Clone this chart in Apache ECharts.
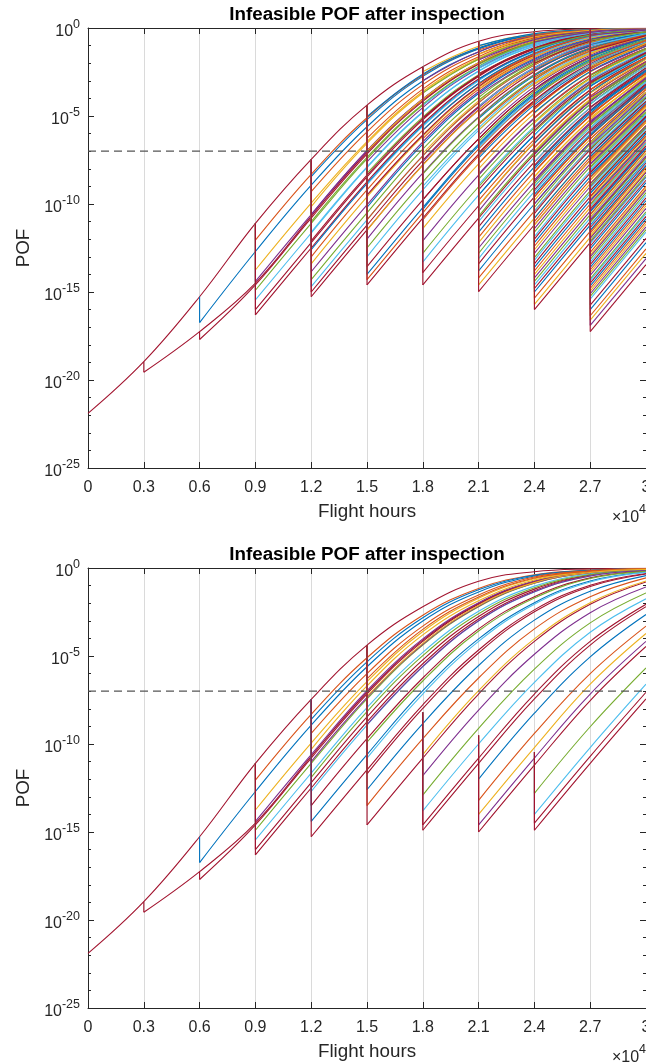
<!DOCTYPE html>
<html>
<head>
<meta charset="utf-8">
<title>Infeasible POF after inspection</title>
<script src="https://cdn.jsdelivr.net/npm/echarts@6/dist/echarts.min.js"></script>
<style>
  html, body { margin: 0; padding: 0; background: #ffffff; overflow: hidden; }
  #chart { width: 646px; height: 1064px; }
</style>
</head>
<body>
<div id="chart"></div>
<script>
// ---------------------------------------------------------------------------
// Axes: flight hours 0..30000 (inspection every 3000 h), POF as log10 exponent
// ---------------------------------------------------------------------------
const INSPECTION_STEP = 3000;
const xMaxHours = 30000;
const yMinExp = -25;
const yMaxExp = 0;
const pofThresholdExp = -7;

// All POF values below are log10(POF).
// Un-inspected curve, value at 0, 3000, ..., 30000 h.
const rootLogPof = [-21.9, -18.96, -15.27, -11.1, -7.46, -4.38, -2.2, -0.75, -0.21, -0.05, -0.01];

// Curves restarting at an inspection. Each row:
// [log10 POF just before inspection, just after it, then at each later inspection time]
const upperAt03 = [
  [-18.96, -19.56, -17.25, -14.5, -10.7, -7.06, -4.1, -2.02, -0.77, -0.24, -0.07]
];
const upperAt06 = [
  [-15.27, -16.74, -12.7, -8.93, -5.61, -3.01, -1.36, -0.45, -0.14, -0.04],
  [-17.25, -17.7, -14.6, -10.8, -7.16, -4.17, -2.06, -0.79, -0.25, -0.08]
];
const upperAt09 = [
  [-11.1, -12.05, -8.31, -5.1, -2.68, -1.16, -0.38, -0.12, -0.04],
  [-11.1, -13.75, -9.95, -6.46, -3.61, -1.72, -0.61, -0.19, -0.06],
  [-11.1, -14.4, -10.6, -6.97, -4.03, -1.97, -0.74, -0.23, -0.07],
  [-11.1, -14.9, -11.1, -7.44, -4.38, -2.2, -0.87, -0.28, -0.09],
  [-11.1, -15.45, -11.65, -7.93, -4.79, -2.46, -1.03, -0.33, -0.1],
  [-11.1, -16.0, -12.2, -8.46, -5.22, -2.76, -1.2, -0.4, -0.12],
  [-11.1, -16.3, -12.5, -8.74, -5.44, -2.9, -1.29, -0.42, -0.13]
];
const upperAt12 = [
  [-7.46, -8.45, -5.21, -2.75, -1.19, -0.39, -0.12, -0.04],
  [-7.46, -9.3, -5.9, -3.22, -1.48, -0.49, -0.15, -0.05],
  [-7.46, -10.15, -6.56, -3.69, -1.77, -0.64, -0.2, -0.06],
  [-7.46, -10.6, -6.97, -4.03, -1.97, -0.74, -0.23, -0.07],
  [-7.46, -11.0, -7.35, -4.33, -2.17, -0.85, -0.27, -0.08],
  [-7.46, -11.6, -7.89, -4.76, -2.44, -1.02, -0.33, -0.1],
  [-7.46, -12.1, -8.36, -5.14, -2.7, -1.17, -0.39, -0.12],
  [-7.46, -12.6, -8.84, -5.54, -2.96, -1.32, -0.43, -0.13],
  [-7.46, -13.0, -9.2, -5.82, -3.17, -1.45, -0.48, -0.15],
  [-7.46, -13.4, -9.6, -6.15, -3.38, -1.58, -0.54, -0.17],
  [-7.46, -13.85, -10.05, -6.47, -3.62, -1.73, -0.62, -0.19],
  [-7.46, -14.3, -10.5, -6.88, -3.95, -1.93, -0.72, -0.23],
  [-7.46, -14.7, -10.9, -7.26, -4.25, -2.11, -0.82, -0.26],
  [-7.46, -15.0, -11.2, -7.53, -4.46, -2.25, -0.9, -0.29],
  [-7.46, -15.27, -11.47, -7.77, -4.66, -2.38, -0.98, -0.31]
];
const upperAt15 = [
  [-4.38, -5.04, -2.63, -1.13, -0.37, -0.11, -0.03],
  [-4.38, -6.27, -3.47, -1.63, -0.56, -0.17, -0.05],
  [-4.38, -7.0, -4.05, -1.98, -0.74, -0.23, -0.07],
  [-4.38, -7.6, -4.52, -2.29, -0.93, -0.3, -0.09],
  [-4.38, -8.26, -5.06, -2.65, -1.14, -0.37, -0.11],
  [-4.38, -8.9, -5.59, -3.0, -1.35, -0.45, -0.14],
  [-4.38, -9.5, -6.08, -3.32, -1.54, -0.52, -0.16],
  [-4.38, -10.2, -6.6, -3.72, -1.79, -0.65, -0.2],
  [-4.38, -10.9, -7.26, -4.25, -2.11, -0.82, -0.26],
  [-4.38, -11.5, -7.8, -4.68, -2.39, -0.99, -0.32],
  [-4.38, -12.0, -8.25, -5.05, -2.64, -1.13, -0.37],
  [-4.38, -12.5, -8.74, -5.44, -2.9, -1.29, -0.42],
  [-4.38, -13.0, -9.2, -5.82, -3.17, -1.45, -0.48],
  [-4.38, -13.56, -9.76, -6.3, -3.49, -1.65, -0.57],
  [-4.38, -14.0, -10.2, -6.6, -3.72, -1.79, -0.65],
  [-4.38, -14.3, -10.5, -6.88, -3.95, -1.93, -0.72],
  [-4.38, -14.6, -10.8, -7.16, -4.17, -2.06, -0.79]
];
const upperAt18 = [
  [-2.2, -2.48, -1.04, -0.33, -0.1, -0.03],
  [-2.2, -3.0, -1.35, -0.45, -0.14, -0.04],
  [-2.2, -3.7, -1.78, -0.64, -0.2, -0.06],
  [-2.2, -4.4, -2.22, -0.88, -0.28, -0.09],
  [-2.2, -5.13, -2.7, -1.17, -0.39, -0.12],
  [-2.2, -5.8, -3.15, -1.44, -0.47, -0.15],
  [-2.2, -6.3, -3.49, -1.65, -0.57, -0.18],
  [-2.2, -7.12, -4.14, -2.04, -0.78, -0.25],
  [-2.2, -7.6, -4.52, -2.29, -0.93, -0.3],
  [-2.2, -8.3, -5.09, -2.67, -1.15, -0.38],
  [-2.2, -9.0, -5.67, -3.05, -1.38, -0.45],
  [-2.2, -9.77, -6.3, -3.49, -1.65, -0.57],
  [-2.2, -10.3, -6.7, -3.8, -1.86, -0.68],
  [-2.2, -10.9, -7.26, -4.25, -2.11, -0.82],
  [-2.2, -11.4, -7.72, -4.62, -2.35, -0.96],
  [-2.2, -12.1, -8.36, -5.14, -2.7, -1.17],
  [-2.2, -12.8, -9.02, -5.68, -3.06, -1.38],
  [-2.2, -13.3, -9.5, -6.08, -3.32, -1.54],
  [-2.2, -13.9, -10.1, -6.52, -3.66, -1.76],
  [-2.2, -14.6, -10.8, -7.16, -4.17, -2.06]
];
const upperAt21 = [
  [-0.75, -1.0, -0.32, -0.1, -0.03],
  [-0.75, -1.25, -0.41, -0.13, -0.04],
  [-0.75, -1.5, -0.5, -0.15, -0.05],
  [-0.75, -1.82, -0.66, -0.2, -0.06],
  [-0.75, -2.05, -0.79, -0.25, -0.08],
  [-0.75, -2.3, -0.93, -0.3, -0.09],
  [-0.75, -2.6, -1.12, -0.37, -0.11],
  [-0.75, -2.9, -1.29, -0.42, -0.13],
  [-0.75, -3.2, -1.47, -0.49, -0.15],
  [-0.75, -3.5, -1.65, -0.57, -0.18],
  [-0.75, -3.8, -1.86, -0.68, -0.21],
  [-0.75, -4.1, -2.02, -0.77, -0.24],
  [-0.75, -4.45, -2.25, -0.9, -0.29],
  [-0.75, -4.8, -2.47, -1.03, -0.33],
  [-0.75, -5.15, -2.72, -1.18, -0.39],
  [-0.75, -5.5, -2.95, -1.32, -0.43],
  [-0.75, -5.8, -3.15, -1.44, -0.47],
  [-0.75, -6.1, -3.33, -1.55, -0.52],
  [-0.75, -6.45, -3.61, -1.72, -0.61],
  [-0.75, -6.8, -3.88, -1.9, -0.7],
  [-0.75, -7.1, -4.12, -2.03, -0.78],
  [-0.75, -7.4, -4.37, -2.2, -0.87],
  [-0.75, -7.7, -4.6, -2.34, -0.95],
  [-0.75, -8.0, -4.85, -2.5, -1.05],
  [-0.75, -8.3, -5.09, -2.67, -1.15],
  [-0.75, -8.6, -5.33, -2.83, -1.24],
  [-0.75, -8.9, -5.59, -3.0, -1.35],
  [-0.75, -9.2, -5.82, -3.17, -1.45],
  [-0.75, -9.5, -6.08, -3.32, -1.54],
  [-0.75, -9.8, -6.33, -3.51, -1.66],
  [-0.75, -10.1, -6.52, -3.66, -1.76],
  [-0.75, -10.4, -6.8, -3.88, -1.9],
  [-0.75, -10.7, -7.06, -4.1, -2.02],
  [-0.75, -11.0, -7.35, -4.33, -2.17],
  [-0.75, -11.3, -7.62, -4.54, -2.3],
  [-0.75, -11.6, -7.89, -4.76, -2.44],
  [-0.75, -11.9, -8.16, -4.98, -2.6],
  [-0.75, -12.2, -8.46, -5.22, -2.76],
  [-0.75, -12.5, -8.74, -5.44, -2.9],
  [-0.75, -12.8, -9.02, -5.68, -3.06],
  [-0.75, -13.1, -9.3, -5.9, -3.22],
  [-0.75, -13.4, -9.6, -6.15, -3.38],
  [-0.75, -13.8, -10.0, -6.5, -3.65],
  [-0.75, -14.2, -10.4, -6.8, -3.88],
  [-0.75, -14.6, -10.8, -7.16, -4.17],
  [-0.75, -14.98, -11.18, -7.51, -4.44]
];
const upperAt24 = [
  [-0.21, -0.8, -0.25, -0.08], [-0.21, -1.2, -0.4, -0.12], [-0.21, -1.55, -0.53, -0.16],
  [-0.21, -2.0, -0.75, -0.23], [-0.21, -2.4, -0.99, -0.32], [-0.21, -2.8, -1.22, -0.4],
  [-0.21, -3.2, -1.47, -0.49], [-0.21, -3.5, -1.65, -0.57], [-0.21, -3.85, -1.87, -0.68],
  [-0.21, -4.2, -2.08, -0.79], [-0.21, -4.5, -2.26, -0.9], [-0.21, -4.8, -2.47, -1.03],
  [-0.21, -5.1, -2.68, -1.16], [-0.21, -5.4, -2.88, -1.28], [-0.21, -5.65, -3.04, -1.38],
  [-0.21, -5.9, -3.22, -1.48], [-0.21, -6.1, -3.33, -1.55], [-0.21, -6.35, -3.53, -1.67],
  [-0.21, -6.55, -3.68, -1.76], [-0.21, -6.8, -3.88, -1.9], [-0.21, -7.0, -4.05, -1.98],
  [-0.21, -7.2, -4.2, -2.08], [-0.21, -7.35, -4.33, -2.17], [-0.21, -7.6, -4.52, -2.29],
  [-0.21, -7.8, -4.68, -2.39], [-0.21, -8.0, -4.85, -2.5], [-0.21, -8.2, -5.01, -2.61],
  [-0.21, -8.45, -5.21, -2.75], [-0.21, -8.65, -5.37, -2.86], [-0.21, -8.85, -5.55, -2.97],
  [-0.21, -9.0, -5.67, -3.05], [-0.21, -9.2, -5.82, -3.17], [-0.21, -9.45, -6.04, -3.31],
  [-0.21, -9.6, -6.15, -3.38], [-0.21, -9.8, -6.33, -3.51], [-0.21, -10.0, -6.5, -3.65],
  [-0.21, -10.2, -6.6, -3.72], [-0.21, -10.4, -6.8, -3.88], [-0.21, -10.55, -6.93, -4.0],
  [-0.21, -10.8, -7.16, -4.17], [-0.21, -11.0, -7.35, -4.33], [-0.21, -11.2, -7.53, -4.46],
  [-0.21, -11.4, -7.72, -4.62], [-0.21, -11.6, -7.89, -4.76], [-0.21, -11.85, -8.12, -4.94],
  [-0.21, -12.0, -8.25, -5.05], [-0.21, -12.2, -8.46, -5.22], [-0.21, -12.4, -8.65, -5.37],
  [-0.21, -12.6, -8.84, -5.54], [-0.21, -12.8, -9.02, -5.68], [-0.21, -13.05, -9.25, -5.86],
  [-0.21, -13.2, -9.4, -6.0], [-0.21, -13.4, -9.6, -6.15], [-0.21, -13.6, -9.8, -6.33],
  [-0.21, -13.8, -10.0, -6.5], [-0.21, -14.0, -10.2, -6.6], [-0.21, -14.2, -10.4, -6.8],
  [-0.21, -14.4, -10.6, -6.97], [-0.21, -14.6, -10.8, -7.16], [-0.21, -14.8, -11.0, -7.35],
  [-0.21, -15.0, -11.2, -7.53], [-0.21, -15.35, -11.55, -7.85], [-0.21, -15.7, -11.9, -8.16],
  [-0.21, -16.0, -12.2, -8.46]
];
const upperAt27 = [
  [-0.05, -0.4, -0.12], [-0.05, -0.7, -0.22], [-0.05, -1.0, -0.32], [-0.05, -1.3, -0.43],
  [-0.05, -1.6, -0.55], [-0.05, -1.9, -0.7], [-0.05, -2.2, -0.87], [-0.05, -2.45, -1.02],
  [-0.05, -2.7, -1.17], [-0.05, -2.9, -1.29], [-0.05, -3.1, -1.41], [-0.05, -3.3, -1.53],
  [-0.05, -3.5, -1.65], [-0.05, -3.7, -1.78], [-0.05, -3.95, -1.93], [-0.05, -4.1, -2.02],
  [-0.05, -4.3, -2.15], [-0.05, -4.5, -2.26], [-0.05, -4.7, -2.4], [-0.05, -4.9, -2.54],
  [-0.05, -5.1, -2.68], [-0.05, -5.3, -2.81], [-0.05, -5.5, -2.95], [-0.05, -5.7, -3.08],
  [-0.05, -5.9, -3.22], [-0.05, -6.1, -3.33], [-0.05, -6.3, -3.49], [-0.05, -6.5, -3.65],
  [-0.05, -6.65, -3.76], [-0.05, -6.85, -3.92], [-0.05, -7.0, -4.05], [-0.05, -7.15, -4.17],
  [-0.05, -7.3, -4.28], [-0.05, -7.45, -4.38], [-0.05, -7.6, -4.52], [-0.05, -7.75, -4.64],
  [-0.05, -7.95, -4.81], [-0.05, -8.05, -4.89], [-0.05, -8.2, -5.01], [-0.05, -8.35, -5.13],
  [-0.05, -8.5, -5.25], [-0.05, -8.65, -5.37], [-0.05, -8.85, -5.55], [-0.05, -8.95, -5.63],
  [-0.05, -9.1, -5.75], [-0.05, -9.25, -5.86], [-0.05, -9.4, -6.0], [-0.05, -9.55, -6.12],
  [-0.05, -9.7, -6.25], [-0.05, -9.85, -6.37], [-0.05, -10.05, -6.55], [-0.05, -10.15, -6.56],
  [-0.05, -10.3, -6.7], [-0.05, -10.45, -6.84], [-0.05, -10.6, -6.97], [-0.05, -10.75, -7.11],
  [-0.05, -10.9, -7.26], [-0.05, -11.05, -7.4], [-0.05, -11.25, -7.58], [-0.05, -11.35, -7.67],
  [-0.05, -11.5, -7.8], [-0.05, -11.65, -7.93], [-0.05, -11.8, -8.07], [-0.05, -11.95, -8.2],
  [-0.05, -12.1, -8.36], [-0.05, -12.25, -8.5], [-0.05, -12.4, -8.65], [-0.05, -12.55, -8.79],
  [-0.05, -12.75, -8.98], [-0.05, -12.9, -9.11], [-0.05, -13.0, -9.2], [-0.05, -13.15, -9.35],
  [-0.05, -13.3, -9.5], [-0.05, -13.45, -9.65], [-0.05, -13.6, -9.8], [-0.05, -13.75, -9.95],
  [-0.05, -13.9, -10.1], [-0.05, -14.05, -10.25], [-0.05, -14.25, -10.45], [-0.05, -14.35, -10.55],
  [-0.05, -14.5, -10.7], [-0.05, -14.65, -10.85], [-0.05, -14.8, -11.0], [-0.05, -14.95, -11.15],
  [-0.05, -15.1, -11.3], [-0.05, -15.25, -11.45], [-0.05, -15.4, -11.6], [-0.05, -15.75, -11.95],
  [-0.05, -16.0, -12.2], [-0.05, -16.35, -12.55], [-0.05, -16.6, -12.8], [-0.05, -16.9, -13.1],
  [-0.05, -17.25, -13.45]
];

// Lower panel: same early history, fewer restarts later on
const lowerAt12 = [
  [-7.46, -8.6, -5.33, -2.83, -1.24, -0.41, -0.13, -0.04],
  [-7.46, -9.4, -6.0, -3.3, -1.53, -0.51, -0.16, -0.05],
  [-7.46, -10.3, -6.7, -3.8, -1.86, -0.68, -0.21, -0.06],
  [-7.46, -11.0, -7.35, -4.33, -2.17, -0.85, -0.27, -0.08],
  [-7.46, -11.9, -8.16, -4.98, -2.6, -1.12, -0.37, -0.11],
  [-7.46, -12.7, -8.93, -5.61, -3.01, -1.36, -0.45, -0.14],
  [-7.46, -13.5, -9.7, -6.25, -3.46, -1.63, -0.56, -0.17],
  [-7.46, -14.4, -10.6, -6.97, -4.03, -1.97, -0.74, -0.23],
  [-7.46, -15.27, -11.47, -7.77, -4.66, -2.38, -0.98, -0.31]
];
const lowerAt15 = [
  [-4.38, -6.3, -3.49, -1.65, -0.57, -0.18, -0.05],
  [-4.38, -7.3, -4.28, -2.13, -0.83, -0.26, -0.08],
  [-4.38, -8.9, -5.59, -3.0, -1.35, -0.45, -0.14],
  [-4.38, -9.9, -6.42, -3.58, -1.71, -0.6, -0.19],
  [-4.38, -10.8, -7.16, -4.17, -2.06, -0.79, -0.25],
  [-4.38, -11.7, -7.98, -4.83, -2.49, -1.05, -0.34],
  [-4.38, -12.6, -8.84, -5.54, -2.96, -1.32, -0.43],
  [-4.38, -13.5, -9.7, -6.25, -3.46, -1.63, -0.56],
  [-4.38, -14.6, -10.8, -7.16, -4.17, -2.06, -0.79]
];
const lowerAt18 = [
  [-8.2, -10.6, -6.97, -4.03, -1.97, -0.74],
  [-8.2, -11.8, -8.07, -4.9, -2.54, -1.08],
  [-8.2, -12.9, -9.11, -5.75, -3.12, -1.42],
  [-8.2, -13.8, -10.0, -6.5, -3.65, -1.75],
  [-8.2, -14.6, -10.8, -7.16, -4.17, -2.06],
  [-8.2, -14.9, -11.1, -7.44, -4.38, -2.2]
];
const lowerAt21 = [
  [-9.5, -12.0, -8.25, -5.05, -2.64],
  [-9.5, -13.2, -9.4, -6.0, -3.3],
  [-9.5, -14.0, -10.2, -6.6, -3.72],
  [-9.5, -14.6, -10.8, -7.16, -4.17],
  [-9.5, -15.0, -11.2, -7.53, -4.46]
];
const lowerAt24 = [
  [-10.45, -12.8, -9.02, -5.68],
  [-10.45, -14.0, -10.2, -6.6],
  [-10.45, -14.5, -10.7, -7.06],
  [-10.45, -14.9, -11.1, -7.44]
];

const upperGroups = [
  [3000, upperAt03], [6000, upperAt06], [9000, upperAt09], [12000, upperAt12], [15000, upperAt15],
  [18000, upperAt18], [21000, upperAt21], [24000, upperAt24], [27000, upperAt27]
];
const lowerGroups = [
  [3000, upperAt03], [6000, upperAt06], [9000, upperAt09], [12000, lowerAt12], [15000, lowerAt15],
  [18000, lowerAt18], [21000, lowerAt21], [24000, lowerAt24]
];

const panelTitles = ['Infeasible POF after inspection', 'Infeasible POF after inspection'];

// ---------------------------------------------------------------------------
// Styling
// ---------------------------------------------------------------------------
const palette = ['#0072BD', '#D95319', '#EDB120', '#7E2F8E', '#77AC30', '#4DBEEE', '#A2142F'];
const dropColor = '#A2142F';
const ink = '#262626';
const fontFamily = '"Liberation Sans", Arial, Helvetica, sans-serif';
const gridBoxes = [
  { left: 88, top: 28, width: 558, height: 440 },
  { left: 88, top: 568, width: 558, height: 440 }
];

// "10" with a raised exponent
function expLabelRich() {
  return {
    b: { fontSize: 16, height: 16, verticalAlign: 'bottom', color: ink, fontFamily: fontFamily },
    e: { fontSize: 12.5, height: 12, verticalAlign: 'top', padding: [2.7, 0, 8.7, 0], color: ink, fontFamily: fontFamily }
  };
}

const xAxes = [];
const yAxes = [];
gridBoxes.forEach((g, gi) => {
  xAxes.push({
    gridIndex: gi, type: 'value', position: 'bottom', min: 0, max: xMaxHours, interval: INSPECTION_STEP,
    axisLine: { show: true, onZero: false, lineStyle: { color: ink, width: 1 } },
    axisTick: { show: true, inside: true, length: 6, lineStyle: { color: ink, width: 1 } },
    axisLabel: {
      show: true, margin: 12, color: ink, fontSize: 16, fontFamily: fontFamily,
      showMaxLabel: true, showMinLabel: true, hideOverlap: false,
      formatter: v => String(Math.round(v / 1000) / 10)
    },
    splitLine: { show: true, lineStyle: { color: '#dadada', width: 1 } }
  });
  xAxes.push({
    gridIndex: gi, type: 'value', position: 'top', min: 0, max: xMaxHours, interval: INSPECTION_STEP,
    axisLine: { show: true, onZero: false, lineStyle: { color: ink, width: 1 } },
    axisTick: { show: true, inside: true, length: 6, lineStyle: { color: ink, width: 1 } },
    axisLabel: { show: false },
    splitLine: { show: false }
  });
  yAxes.push({
    gridIndex: gi, type: 'value', position: 'left', min: yMinExp, max: yMaxExp, interval: 5,
    axisLine: { show: true, onZero: false, lineStyle: { color: ink, width: 1 } },
    axisTick: { show: true, inside: true, length: 6, lineStyle: { color: ink, width: 1 } },
    minorTick: { show: true, splitNumber: 5, length: 3, lineStyle: { color: ink, width: 1 } },
    axisLabel: {
      show: true, margin: 8,
      formatter: v => '{b|10}{e|' + v + '}',
      rich: expLabelRich()
    },
    splitLine: { show: false }
  });
  yAxes.push({
    gridIndex: gi, type: 'value', position: 'right', min: yMinExp, max: yMaxExp, interval: 5,
    axisLine: { show: true, onZero: false, lineStyle: { color: ink, width: 1 } },
    axisTick: { show: true, inside: true, length: 6, lineStyle: { color: ink, width: 1 } },
    minorTick: { show: true, splitNumber: 5, length: 3, lineStyle: { color: ink, width: 1 } },
    axisLabel: { show: false },
    splitLine: { show: false }
  });
});

// ---------------------------------------------------------------------------
// Series
// ---------------------------------------------------------------------------
const series = [];

function lineSeries(gi, data, color, smooth) {
  return {
    type: 'line', xAxisIndex: 2 * gi, yAxisIndex: 2 * gi, data: data,
    symbol: 'none', showSymbol: false, smooth: smooth, silent: true, animation: false,
    lineStyle: { color: color, width: 1.1 }, z: 3
  };
}

function addCurve(gi, hour, row, color) {
  // drop at the inspection
  series.push(lineSeries(gi, [[hour, row[0]], [hour, row[1]]], color, false));
  // growth after the inspection
  const curve = row.slice(1).map((v, i) => [hour + i * INSPECTION_STEP, v]);
  series.push(lineSeries(gi, curve, color, 0.4));
}

function addPanel(gi, root, groups) {
  let colorIndex = 6;
  series.push(lineSeries(gi, root.map((v, i) => [i * INSPECTION_STEP, v]), palette[colorIndex], 0.4));
  groups.forEach(([hour, rows]) => {
    // the deepest restart of each inspection is drawn last, spanning the whole drop
    let deepest = 0;
    rows.forEach((row, i) => { if (row[1] < rows[deepest][1]) deepest = i; });
    rows.forEach((row, i) => {
      if (i === deepest) return;
      colorIndex = (colorIndex + 1) % palette.length;
      addCurve(gi, hour, row, palette[colorIndex]);
    });
    addCurve(gi, hour, rows[deepest], dropColor);
  });
  // POF threshold
  series.push({
    type: 'line', xAxisIndex: 2 * gi, yAxisIndex: 2 * gi,
    data: [[0, pofThresholdExp], [xMaxHours, pofThresholdExp]],
    symbol: 'none', silent: true, animation: false, z: 10,
    lineStyle: { color: '#555555', width: 1.2, type: [8, 5] }
  });
}

addPanel(0, rootLogPof, upperGroups);
addPanel(1, rootLogPof, lowerGroups);

// ---------------------------------------------------------------------------
// Titles and axis names
// ---------------------------------------------------------------------------
const graphics = [];
gridBoxes.forEach((g, gi) => {
  const cx = 367;
  graphics.push({
    type: 'text', x: cx, y: g.top - 13.5, z: 20,
    style: { text: panelTitles[gi], fontSize: 18.8, fontWeight: 'bold', fontFamily: fontFamily,
             fill: '#000000', align: 'center', verticalAlign: 'middle' }
  });
  graphics.push({
    type: 'text', x: cx, y: g.top + g.height + 44, z: 20,
    style: { text: 'Flight hours', fontSize: 18.8, fontFamily: fontFamily, fill: ink,
             align: 'center', verticalAlign: 'middle' }
  });
  graphics.push({
    type: 'text', x: 24, y: g.top + g.height / 2, rotation: Math.PI / 2, z: 20,
    style: { text: 'POF', fontSize: 18.8, fontFamily: fontFamily, fill: ink,
             align: 'center', verticalAlign: 'middle' }
  });
  graphics.push({
    type: 'text', x: 646, y: g.top + g.height + 47, z: 20,
    style: {
      text: '{a|\u00d710}{b|4}', align: 'right', verticalAlign: 'middle',
      rich: {
        a: { fontSize: 16, height: 16, verticalAlign: 'bottom', fill: ink, fontFamily: fontFamily },
        b: { fontSize: 12.5, height: 12, verticalAlign: 'top', padding: [0, 0, 10, 0], fill: ink, fontFamily: fontFamily }
      }
    }
  });
});

const chart = echarts.init(document.getElementById('chart'), null, { renderer: 'canvas' });
chart.setOption({
  backgroundColor: '#ffffff',
  animation: false,
  grid: gridBoxes.map(g => Object.assign({ containLabel: false, outerBoundsMode: 'none' }, g)),
  xAxis: xAxes,
  yAxis: yAxes,
  series: series,
  graphic: graphics
});
</script>
</body>
</html>
